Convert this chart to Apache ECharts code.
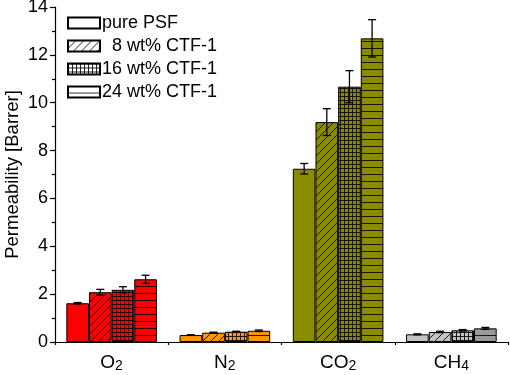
<!DOCTYPE html>
<html><head><meta charset="utf-8">
<script src="https://cdn.jsdelivr.net/npm/echarts@6/dist/echarts.min.js"></script>
<style>html,body{margin:0;padding:0;background:#fff}#c{width:510px;height:375px}</style>
</head><body><div id="c"></div>
<script>
// ---- data ----
const categories = ['O2', 'N2', 'CO2', 'CH4'];
const seriesNames = ['pure PSF', '8 wt% CTF-1', '16 wt% CTF-1', '24 wt% CTF-1'];
const purePSF = [1.62, 0.29, 7.24, 0.32];
const ctf8 = [2.08, 0.39, 9.19, 0.42];
const ctf16 = [2.18, 0.43, 10.67, 0.49];
const ctf24 = [2.62, 0.47, 12.69, 0.57];
const errPure = [0.03, 0.01, 0.22, 0.02];
const err8 = [0.12, 0.02, 0.56, 0.03];
const err16 = [0.13, 0.02, 0.67, 0.03];
const err24 = [0.17, 0.03, 0.78, 0.04];
const yMin = 0, yMax = 14, yStep = 2;

// ---- styles ----
const catColors = ['#ff0000', '#ff9600', '#8b8b00', '#c4c4c4'];
const patternTypes = ['solid', 'diag', 'grid', 'hline'];

function makePattern(fill, type) {
  if (type === 'solid') return fill;
  const c = document.createElement('canvas');
  let w = 8, h = 8;
  if (type === 'grid') { w = 4; h = 4; }
  if (type === 'hline') { w = 8; h = 7; }
  c.width = w; c.height = h;
  const g = c.getContext('2d');
  g.fillStyle = fill; g.fillRect(0, 0, w, h);
  g.strokeStyle = 'rgba(0,0,0,0.85)'; g.lineWidth = 1;
  g.beginPath();
  if (type === 'diag') {
    g.moveTo(-1, h + 1); g.lineTo(w + 1, -1);
    g.moveTo(-1, 1); g.lineTo(1, -1);
    g.moveTo(w - 1, h + 1); g.lineTo(w + 1, h - 1);
  } else if (type === 'grid') {
    g.moveTo(0.5, 0); g.lineTo(0.5, h);
    g.moveTo(0, 0.5); g.lineTo(w, 0.5);
  } else if (type === 'hline') {
    g.moveTo(0, h - 0.5); g.lineTo(w, h - 0.5);
  }
  g.stroke();
  return { image: c, repeat: 'repeat' };
}

const allVals = [purePSF, ctf8, ctf16, ctf24];
const allErrs = [errPure, err8, err16, err24];
const FONT = 'Arial, "Liberation Sans", sans-serif';

const barSeries = seriesNames.map((name, s) => ({
  name: name,
  type: 'bar',
  barGap: '0%',
  barCategoryGap: '20%',
  itemStyle: { color: makePattern('#ffffff', patternTypes[s]), borderColor: '#000', borderWidth: 1 },
  data: allVals[s].map((v, c) => ({
    value: v,
    itemStyle: { color: makePattern(s === 3 && c === 3 ? '#9a9a9a' : catColors[c], patternTypes[s]) }
  })),
  z: 2
}));

const errData = [];
allVals.forEach((vals, s) => vals.forEach((v, c) => errData.push([c, v, allErrs[s][c], s])));

const errSeries = {
  type: 'custom',
  z: 5,
  silent: true,
  encode: { x: 0, y: 1 },
  data: errData,
  renderItem: function (params, api) {
    const c = api.value(0), v = api.value(1), e = api.value(2), s = api.value(3);
    const center = api.coord([c, v]);
    const catW = api.size([1, 0])[0];
    const bw = catW * 0.8 / 4;
    const x = center[0] - catW * 0.4 + (s + 0.5) * bw;
    const top = api.coord([c, v + e])[1];
    const bot = api.coord([c, v - e])[1];
    const cap = 4;
    const st = { stroke: '#000', lineWidth: 1.3 };
    return {
      type: 'group',
      children: [
        { type: 'line', shape: { x1: x, y1: top, x2: x, y2: bot }, style: st },
        { type: 'line', shape: { x1: x - cap, y1: top, x2: x + cap, y2: top }, style: st },
        { type: 'line', shape: { x1: x - cap, y1: bot, x2: x + cap, y2: bot }, style: st }
      ]
    };
  }
};

const chart = echarts.init(document.getElementById('c'), null, { renderer: 'canvas' });
chart.setOption({
  animation: false,
  backgroundColor: '#fff',
  textStyle: { fontFamily: FONT },
  grid: { left: 55, right: 2, top: 7, bottom: 33, containLabel: false, outerBoundsMode: 'none' },
  legend: {
    orient: 'vertical', left: 62, top: 9,
    itemWidth: 32, itemHeight: 11, itemGap: 5,
    icon: 'rect',
    data: seriesNames,
    formatter: n => (/^\d\s/.test(n) ? '  ' + n : n),
    textStyle: { fontSize: 18, lineHeight: 18, color: '#000', fontFamily: FONT, padding: [0, 0, 0, -3] }
  },
  xAxis: [{
    type: 'category',
    data: categories,
    axisLine: { lineStyle: { color: '#000', width: 1.2 } },
    axisTick: { alignWithLabel: true, inside: false, length: 6, lineStyle: { color: '#000', width: 1.2 } },
    axisLabel: {
      margin: 10, color: '#000',
      formatter: v => v.replace(/(\d)/, '{sub|$1}').replace(/^([A-Z]+)/, '{m|$1}'),
      rich: {
        m: { fontSize: 19, fontFamily: FONT, color: '#000', lineHeight: 21, verticalAlign: 'middle' },
        sub: { fontSize: 14, fontFamily: FONT, color: '#000', lineHeight: 21, verticalAlign: 'bottom', padding: [9, 0, 0, 0] }
      }
    }
  }, {
    type: 'category',
    data: categories,
    position: 'bottom',
    axisLine: { show: false },
    axisTick: { show: true, length: 3, lineStyle: { color: '#000', width: 1.2 } },
    axisLabel: { show: false }
  }],
  yAxis: {
    type: 'value', min: yMin, max: yMax, interval: yStep,
    name: 'Permeability [Barrer]', nameLocation: 'middle', nameGap: 33,
    nameMoveOverlap: false,
    nameTextStyle: { fontSize: 18.5, color: '#000', fontFamily: FONT },
    axisLine: { show: true, lineStyle: { color: '#000', width: 1.2 } },
    axisTick: { show: true, length: 5, lineStyle: { color: '#000', width: 1.2 } },
    minorTick: { show: true, splitNumber: 2, length: 3, lineStyle: { color: '#000', width: 1.2 } },
    axisLabel: { fontSize: 18, color: '#000', margin: 7, fontFamily: FONT },
    splitLine: { show: false }
  },
  series: barSeries.concat([errSeries])
});
</script></body></html>
